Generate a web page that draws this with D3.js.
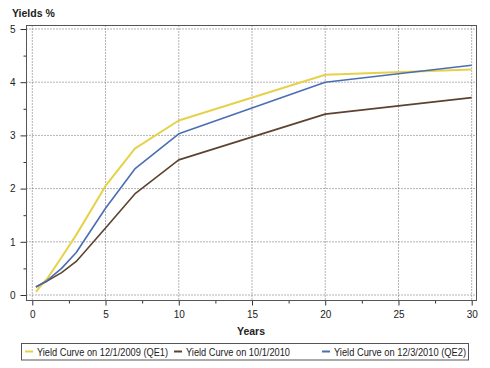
<!DOCTYPE html>
<html><head><meta charset="utf-8">
<script src="https://cdn.jsdelivr.net/npm/d3@7"></script>
<style>body{margin:0;background:#fff;font-family:"Liberation Sans",Arial,sans-serif;}</style>
</head><body>
<svg id="c" width="490" height="368"></svg>
<script>
const maturities = [0.25, 0.5, 1, 2, 3, 5, 7, 10, 20, 30];
const qe1 = [0.06, 0.15, 0.30, 0.71, 1.13, 2.05, 2.75, 3.28, 4.14, 4.24];
const oct2010 = [0.15, 0.19, 0.26, 0.42, 0.63, 1.26, 1.90, 2.54, 3.40, 3.71];
const qe2 = [0.15, 0.19, 0.27, 0.50, 0.80, 1.63, 2.37, 3.03, 4.00, 4.32];
const seriesNames = ["Yield Curve on 12/1/2009 (QE1)", "Yield Curve on 10/1/2010", "Yield Curve on 12/3/2010 (QE2)"];
const seriesColors = ["#E6D24A", "#5E4230", "#4A6EB4"];
const xTicks = [0, 5, 10, 15, 20, 25, 30];
const yTicks = [0, 1, 2, 3, 4, 5];

const svg = d3.select("#c");
const frame = {l: 26.5, t: 25.5, r: 476.5, b: 300.5};
const x = d3.scaleLinear().domain([0, 30]).range([32.3, 471.7]);
const y = d3.scaleLinear().domain([0, 5]).range([295, 29]);

// grid
const g = svg.append("g");
xTicks.forEach(t => g.append("line").attr("x1", x(t)).attr("x2", x(t)).attr("y1", frame.t).attr("y2", frame.b)
  .attr("stroke", "#666").attr("stroke-dasharray", "1,2"));
yTicks.forEach(t => g.append("line").attr("x1", frame.l).attr("x2", frame.r).attr("y1", y(t)).attr("y2", y(t))
  .attr("stroke", "#666").attr("stroke-dasharray", "1,2"));

// axes
const xAxis = d3.axisBottom(x).tickValues(xTicks).tickSize(5).tickPadding(5).tickFormat(d3.format("d"));
const xa = svg.append("g").attr("transform", `translate(0,${frame.b})`).call(xAxis);
xa.select(".domain").remove();
const xMinor = d3.axisBottom(x).tickValues(xTicks.slice(0, -1).map(d => d + 2.5)).tickSize(3).tickFormat("");
const xm = svg.append("g").attr("transform", `translate(0,${frame.b})`).call(xMinor);
xm.select(".domain").remove();

const yAxis = d3.axisLeft(y).tickValues(yTicks).tickSize(6).tickPadding(5).tickFormat(d3.format("d"));
const ya = svg.append("g").attr("transform", `translate(${frame.l},0)`).call(yAxis);
ya.select(".domain").remove();
const yMinor = d3.axisLeft(y).tickValues(yTicks.slice(0, -1).map(d => d + 0.5)).tickSize(3).tickFormat("");
const ym = svg.append("g").attr("transform", `translate(${frame.l},0)`).call(yMinor);
ym.select(".domain").remove();

svg.selectAll(".tick line").attr("stroke", "#333");
svg.selectAll(".tick text").attr("font-size", 10).attr("fill", "#222").attr("font-family", "Liberation Sans, Arial, sans-serif");

// frame
svg.append("rect").attr("x", frame.l).attr("y", frame.t).attr("width", frame.r - frame.l).attr("height", frame.b - frame.t)
  .attr("fill", "none").attr("stroke", "#555");

// lines
const line = d3.line().x((d, i) => x(maturities[i])).y(d => y(d));
[qe1, oct2010, qe2].forEach((s, i) => {
  svg.append("path").datum(s).attr("d", line).attr("fill", "none")
    .attr("stroke", seriesColors[i]).attr("stroke-width", i === 0 ? 2 : 1.6).attr("stroke-linejoin", "round");
});

// titles
svg.append("text").attr("x", 12).attr("y", 17).attr("font-size", 10.5).attr("font-weight", "bold").attr("fill", "#222").text("Yields %");
svg.append("text").attr("x", 251).attr("y", 335).attr("text-anchor", "middle")
  .attr("font-size", 10.5).attr("font-weight", "bold").attr("fill", "#222").text("Years");

// legend
svg.append("rect").attr("x", 21.5).attr("y", 343.5).attr("width", 447).attr("height", 16.5).attr("fill", "#fff").attr("stroke", "#555");
const legX = [25, 174, 322];
const legW = [131, 104, 132];
seriesNames.forEach((n, i) => {
  svg.append("line").attr("x1", legX[i]).attr("x2", legX[i] + 8).attr("y1", 351.5).attr("y2", 351.5)
    .attr("stroke", seriesColors[i]).attr("stroke-width", 2);
  svg.append("text").attr("x", legX[i] + 12).attr("y", 355.5).attr("font-size", 10).attr("fill", "#222")
    .attr("textLength", legW[i]).attr("lengthAdjust", "spacingAndGlyphs").text(n);
});
</script>
</body></html>
